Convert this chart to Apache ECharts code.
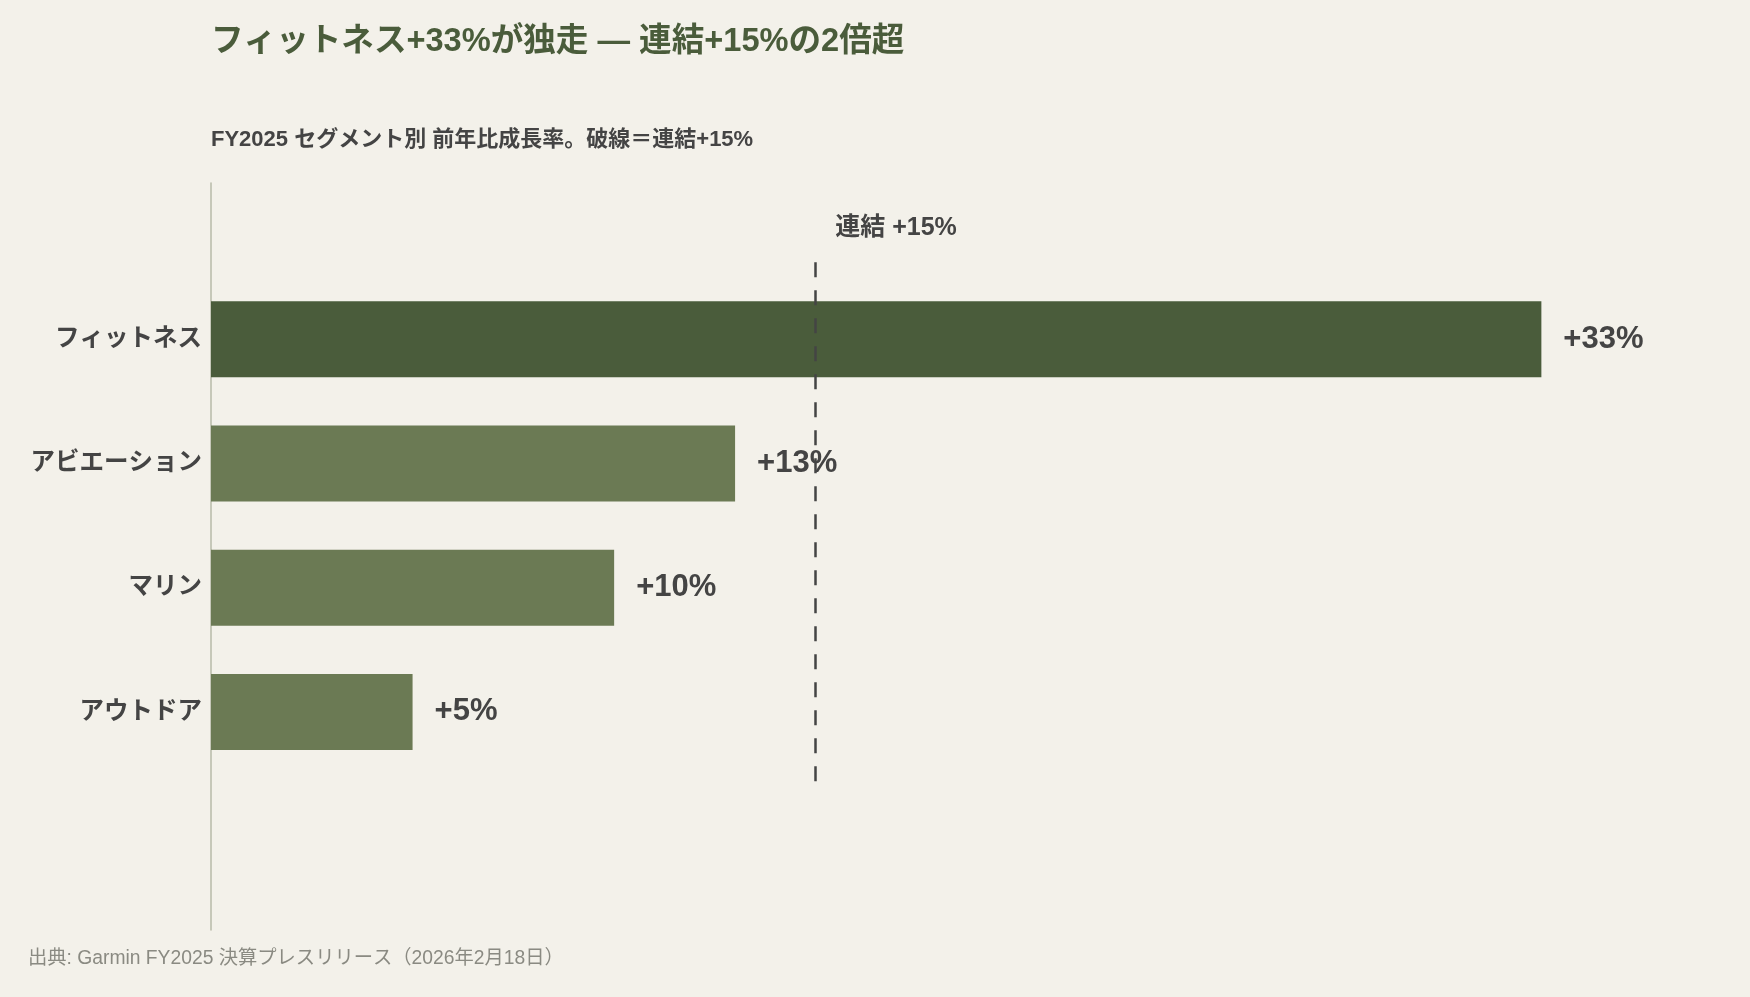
<!DOCTYPE html>
<html>
<head>
<meta charset="utf-8">
<script src="https://cdn.jsdelivr.net/npm/echarts@6/dist/echarts.min.js"></script>
<style>
  html, body { margin: 0; padding: 0; background: #f3f1ea; }
  #chart { width: 1750px; height: 997px; }
</style>
</head>
<body>
<div id="chart"></div>
<script>
// セグメント別 前年比成長率 (FY2025)
const segments = ['フィットネス', 'アビエーション', 'マリン', 'アウトドア'];
const growth = [33, 13, 10, 5];
const consolidated = 15;
const refLabel = '連結 +15%';

const titleText = 'フィットネス+33%が独走 — 連結+15%の2倍超';
const subText = 'FY2025 セグメント別 前年比成長率。破線＝連結+15%';
const sourceText = '出典: Garmin FY2025 決算プレスリリース（2026年2月18日）';

const FONT = "'Liberation Sans', 'Noto Sans CJK JP', sans-serif";
const DARK = '#4a5c3b';
const MID = '#6b7a54';
const TEXT = '#444444';

var myChart = echarts.init(document.getElementById('chart'));

const option = {
    backgroundColor: '#f3f1ea',
    animation: false,
    title: [
        {
            text: titleText,
            left: 211, top: 24, padding: 0,
            textStyle: { fontFamily: FONT, fontSize: 32.6, fontWeight: 'bold', color: DARK, lineHeight: 36 }
        },
        {
            text: subText,
            left: 211, top: 126, padding: 0,
            textStyle: { fontFamily: FONT, fontSize: 22, fontWeight: 'bold', color: TEXT, lineHeight: 28 }
        },
        {
            text: sourceText,
            left: 28, top: 947, padding: 0,
            textStyle: { fontFamily: FONT, fontSize: 19.3, fontWeight: 'normal', color: '#8a8a82', lineHeight: 24 }
        }
    ],
    grid: [
        // bars
        { left: 211, width: 1411, top: 277, height: 497 },
        // axis line + reference line
        { left: 211, width: 1411, top: 183, height: 747 }
    ],
    xAxis: [
        { type: 'value', gridIndex: 0, min: 0, max: 35, show: false },
        { type: 'value', gridIndex: 1, min: 0, max: 35, show: false }
    ],
    yAxis: [
        {
            type: 'category', gridIndex: 0, inverse: true, data: segments,
            axisLine: { show: false }, axisTick: { show: false },
            axisLabel: { margin: 9, fontFamily: FONT, fontSize: 24.5, fontWeight: 'bold', color: TEXT }
        },
        {
            type: 'value', gridIndex: 1, inverse: true, min: 0, max: 100,
            axisLine: { show: true, lineStyle: { color: '#b7baa8', width: 1.5 } },
            axisTick: { show: false }, axisLabel: { show: false }, splitLine: { show: false }
        }
    ],
    series: [
        {
            type: 'bar',
            xAxisIndex: 0, yAxisIndex: 0,
            barWidth: 76,
            data: growth.map((v, i) => ({ value: v, itemStyle: { color: i === 0 ? DARK : MID } })),
            label: {
                show: true, position: 'right', distance: 22,
                formatter: p => '+' + p.value + '%',
                fontFamily: FONT, fontSize: 31, fontWeight: 'bold', color: TEXT
            }
        },
        {
            type: 'scatter',
            xAxisIndex: 1, yAxisIndex: 1,
            symbolSize: 1, clip: false,
            itemStyle: { color: 'transparent', opacity: 1 },
            data: [[consolidated, 6.1]],
            label: {
                show: true, position: 'right', distance: 19,
                formatter: refLabel,
                fontFamily: FONT, fontSize: 25, fontWeight: 'bold', color: TEXT
            },
            markLine: {
                silent: true, symbol: ['none', 'none'],
                label: { show: false },
                lineStyle: { color: TEXT, width: 2.5, type: [15, 13] },
                data: [[{ coord: [consolidated, 10.6] }, { coord: [consolidated, 80.2] }]]
            }
        }
    ]
};

myChart.setOption(option);

window.addEventListener('resize', function () {
    myChart.resize();
});
</script>
</body>
</html>
